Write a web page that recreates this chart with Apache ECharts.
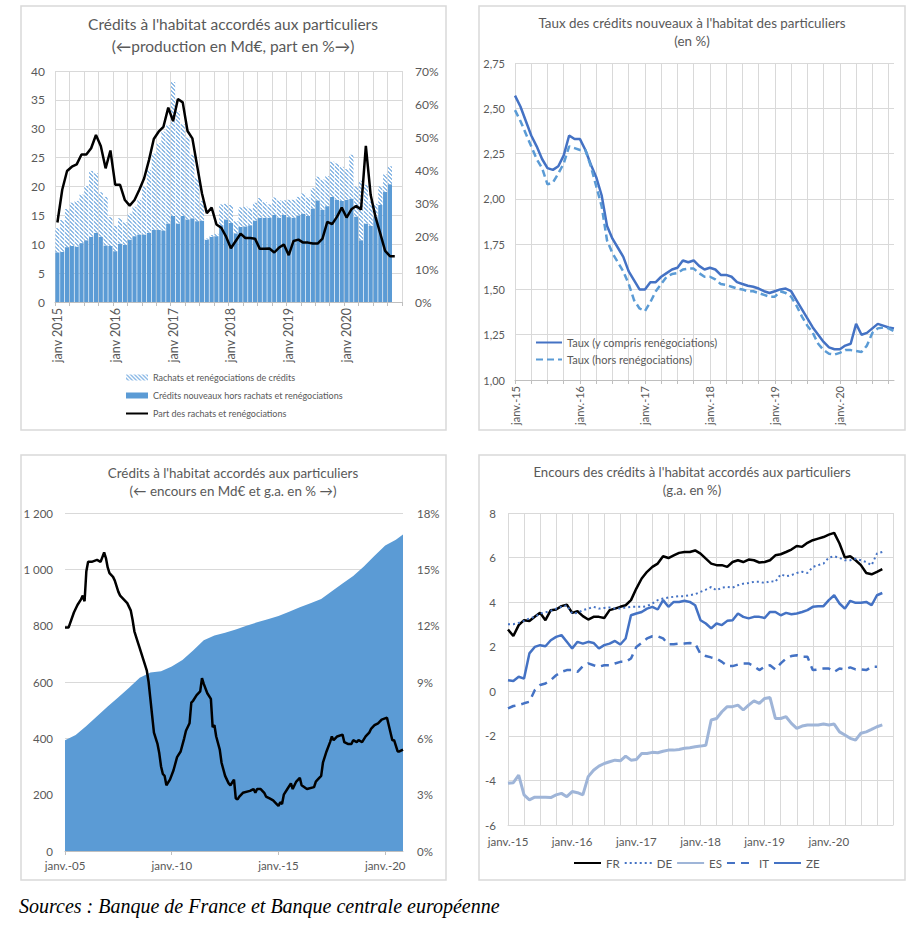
<!DOCTYPE html>
<html><head><meta charset="utf-8">
<script src="https://cdn.jsdelivr.net/npm/echarts@6/dist/echarts.min.js"></script>
<style>html,body{margin:0;padding:0;background:#fff;}#c{width:920px;height:926px;}</style>
</head><body><div id="c"></div>
<script>
// ---------- Panel 1 : production (Md€) and share (%) — monthly Jan 2015 .. ----------
const p1NewCredits = [8.6,8.7,9.5,9.7,9.6,10.2,10.7,11.3,12.0,11.3,9.8,9.7,
 8.8,10.1,9.9,10.8,11.4,11.7,11.7,12.0,12.5,12.5,12.4,13.6,
 14.9,13.6,14.9,14.3,14.5,14.0,14.1,10.8,11.3,11.4,13.3,14.3,
 13.7,11.9,13.0,13.1,13.3,14.1,14.6,14.6,14.6,15.1,14.6,15.1,
 14.7,14.6,15.0,15.3,14.9,16.2,17.6,16.0,16.6,18.2,17.7,17.5,
 17.7,17.9,14.8,10.7,13.6,13.2,14.8,16.8,19.1,20.4];
const p1Rachats = [4.2,5.5,6.6,7.5,7.9,8.4,9.4,11.4,10.3,7.7,8.4,5.0,
 4.4,4.4,3.9,4.5,5.1,6.0,8.3,10.9,13.2,15.0,17.1,17.0,
 23.2,19.4,15.9,14.2,11.0,7.5,3.4,0.2,0.3,0.4,3.6,2.7,
 3.1,2.1,3.4,3.4,2.9,3.1,3.4,2.7,2.3,3.0,3.0,2.5,
 3.0,3.1,3.2,3.5,3.2,3.5,4.1,5.2,5.2,6.1,6.3,5.9,
 5.3,7.6,5.2,10.3,6.7,4.2,2.2,3.2,3.0,3.1];
const p1Share = [24.1,34,39.7,41,41.7,44.7,44.7,46.6,50.6,47.3,40.5,45.9,
 35.5,35.5,30.9,29.2,30.9,34,37.5,43,49.4,51.6,53.1,58.9,
 54.8,61.5,60.5,51.8,49.6,41.2,32.9,26.9,28.6,23.5,22.5,19.8,
 16.3,18.5,20.7,19.4,19.4,19.2,16.1,16.1,16.2,15.0,16.5,17.4,
 14.2,18.5,18.9,18.0,18.0,17.7,17.7,19.2,24.3,23.6,25.8,28.6,
 25.6,28.1,29.1,28.0,47.3,32.4,25.8,20.7,15.5,13.9,13.9];

// ---------- Panel 2 : rates (%) monthly Jan 2015 .. Nov 2020 ----------
const p2RateAll = [2.57,2.51,2.43,2.35,2.29,2.22,2.17,2.16,2.18,2.24,2.35,2.33,
 2.33,2.27,2.19,2.12,2.02,1.85,1.78,1.73,1.68,1.60,1.55,1.50,
 1.50,1.54,1.54,1.57,1.59,1.61,1.62,1.66,1.65,1.66,1.63,1.61,
 1.62,1.61,1.58,1.58,1.57,1.54,1.53,1.52,1.515,1.505,1.49,1.48,
 1.49,1.50,1.505,1.49,1.44,1.39,1.34,1.29,1.25,1.21,1.18,1.17,
 1.17,1.19,1.20,1.31,1.25,1.26,1.285,1.31,1.30,1.29,1.285];
const p2RateNew = [2.49,2.43,2.36,2.29,2.22,2.17,2.08,2.09,2.14,2.195,2.29,2.28,
 2.27,2.27,2.18,2.07,1.96,1.77,1.70,1.65,1.60,1.53,1.44,1.395,
 1.38,1.43,1.49,1.53,1.57,1.585,1.59,1.61,1.615,1.615,1.59,1.57,
 1.57,1.555,1.53,1.525,1.515,1.505,1.50,1.49,1.49,1.48,1.47,1.46,
 1.46,1.49,1.48,1.46,1.41,1.35,1.30,1.26,1.20,1.165,1.145,1.14,
 1.15,1.165,1.165,1.16,1.155,1.19,1.26,1.285,1.29,1.285,1.27];

// ---------- Panel 3 : outstanding (Md€) and growth (%) — x = months since Jan 2005 ----------
const p3StockMonth = [0,6,12,18,24,30,36,42,48,54,60,66,72,78,84,90,96,102,108,114,120,126,132,138,144,150,156,162,168,174,180,186,190];
const p3StockValue = [393,412,444,478,513,546,580,615,634,638,655,678,712,748,765,775,786,800,812,823,834,849,865,880,895,922,950,976,1010,1048,1085,1105,1124];
const p3GrowthMonth = [0,2,5,7,9,10,11,12,13,15,18,20,22,23,24,25,27,28,30,31,33,35,36,37,38,39,41,42,44,46,47,48,49,50,52,53,54,55,56,57,59,61,63,65,67,68,70,71,72,74,76,77,78,80,82,83,84,85,87,88,90,92,93,95,96,97,98,100,104,106,107,108,110,112,113,115,117,119,120,121,122,123,125,127,128,130,132,133,136,140,141,142,144,145,147,149,150,151,153,156,157,159,161,162,164,165,167,169,171,172,174,176,178,181,182,184,185,187,188,190];
const p3GrowthValue = [11.9,11.9,12.7,13.1,13.4,13.6,13.3,14.9,15.4,15.4,15.5,15.4,15.9,15.6,15.1,14.8,14.6,14.4,13.8,13.6,13.4,13.2,13.0,12.8,12.3,11.7,11.1,10.8,10.2,9.6,9.0,8.1,7.2,6.3,5.7,5.2,4.5,4.1,4.0,3.5,3.8,4.3,5.0,5.3,6.0,6.4,6.8,7.9,8.0,8.3,8.5,9.2,8.9,8.4,8.1,6.6,6.7,6.1,5.4,4.7,4.0,3.6,3.5,3.8,2.8,2.75,2.9,3.1,3.2,3.3,3.1,3.3,3.3,3.1,2.9,2.8,2.7,2.5,2.4,2.6,2.5,3.0,3.3,3.6,3.3,3.7,3.9,3.5,3.3,3.4,3.7,3.8,4.0,4.7,5.3,5.8,6.1,5.9,6.1,6.2,5.8,5.7,5.7,5.9,5.8,5.9,5.8,6.1,6.3,6.5,6.7,6.8,7.0,7.1,6.7,5.9,5.9,5.3,5.3,5.4];
const p3XTicks = ['janv.-05','janv.-10','janv.-15','janv.-20'];

// ---------- Panel 4 : outstanding growth by country (%) monthly Jan 2015 .. ----------
const p4FR = [2.77,2.48,2.97,3.19,3.15,3.34,3.52,3.19,3.64,3.67,3.82,3.89,
 3.52,3.59,3.37,3.22,3.34,3.34,3.29,3.64,3.71,3.79,3.86,4.09,
 4.61,5.06,5.36,5.58,5.73,6.06,5.98,6.10,6.21,6.25,6.25,6.32,
 6.18,5.95,5.73,5.66,5.66,5.58,5.80,5.88,5.80,5.91,5.88,5.78,
 5.80,5.88,6.10,6.15,6.25,6.36,6.52,6.48,6.66,6.78,6.85,6.92,
 7.03,7.11,6.63,6.00,6.06,5.88,5.66,5.31,5.25,5.36,5.48];
const p4DE = [3.01,3.01,3.07,3.16,3.27,3.34,3.49,3.54,3.61,3.71,3.79,3.86,
 3.49,3.52,3.64,3.71,3.79,3.71,3.74,3.76,3.71,3.71,3.76,3.79,
 3.79,3.79,3.82,3.94,4.09,4.16,4.21,4.24,4.27,4.27,4.31,4.36,
 4.46,4.56,4.68,4.53,4.65,4.68,4.65,4.76,4.83,4.86,4.91,4.91,
 4.86,4.94,4.91,5.25,5.16,5.21,5.31,5.36,5.31,5.58,5.66,5.73,
 6.00,6.06,5.98,5.88,5.88,5.95,5.88,5.80,5.66,6.18,6.25];
const p4ES = [-4.13,-4.10,-3.76,-4.65,-4.87,-4.75,-4.75,-4.75,-4.77,-4.65,-4.58,-4.73,
 -4.50,-4.55,-4.65,-3.83,-3.54,-3.36,-3.24,-3.16,-3.09,-3.12,-2.91,-3.09,
 -3.06,-2.79,-2.79,-2.74,-2.76,-2.69,-2.64,-2.64,-2.61,-2.56,-2.53,-2.49,
 -2.46,-2.42,-1.29,-1.22,-0.92,-0.69,-0.69,-0.62,-0.84,-0.62,-0.43,-0.54,
 -0.32,-0.28,-1.22,-1.22,-1.14,-1.44,-1.66,-1.56,-1.51,-1.51,-1.51,-1.47,
 -1.51,-1.47,-1.82,-1.96,-2.11,-2.19,-1.88,-1.82,-1.71,-1.59,-1.51];
const p4IT = [-0.77,-0.66,-0.62,-0.54,-0.47,0.05,0.28,0.35,0.50,0.72,0.87,0.95,
 0.95,0.87,1.13,1.25,1.17,1.10,1.17,1.17,1.25,1.32,1.32,1.47,
 1.99,2.17,2.37,2.47,2.47,2.37,2.11,2.11,2.14,2.14,2.17,2.14,
 1.67,1.58,1.52,1.47,1.32,1.13,1.13,1.20,1.25,1.25,1.13,0.95,
 1.10,1.17,0.98,1.25,1.47,1.58,1.62,1.55,1.55,0.95,0.98,1.02,
 1.02,0.87,1.02,0.98,1.07,0.98,0.98,0.95,1.10,1.10];
const p4ZE = [0.50,0.46,0.65,0.57,1.70,1.99,2.07,2.02,2.29,2.44,2.52,2.22,
 1.92,2.22,2.14,2.22,2.17,1.92,2.07,2.14,2.26,2.10,2.37,3.41,
 3.49,3.56,3.71,3.79,3.67,4.09,3.79,4.01,4.01,4.06,4.01,3.86,
 3.19,3.04,2.82,3.04,2.97,3.16,3.19,3.49,3.34,3.27,3.34,3.34,
 3.29,3.56,3.56,3.41,3.52,3.46,3.49,3.56,3.64,3.79,3.82,3.82,
 4.09,4.31,3.94,3.71,4.06,3.97,3.97,4.01,3.86,4.31,4.41];

// ---------- helpers ----------
function monthCats(y0, y1, mEnd) {
  const a = [];
  for (let y = y0; y <= y1; y++) for (let m = 1; m <= 12; m++) {
    if (y === y1 && m > mEnd) break;
    a.push(y + '-' + String(m).padStart(2, '0'));
  }
  return a;
}
const p1Cats = monthCats(2015, 2020, 12);
const p2Cats = monthCats(2015, 2020, 11);
const p4Cats = monthCats(2015, 2021, 1);
const zip = (xs, ys) => xs.map((x, i) => [x, ys[i]]);

const TXT = '#595959', GRIDC = '#d9d9d9', AX = '#bfbfbf';
const FONT = 'Lato, "Liberation Sans", sans-serif';

// hatch pattern for "Rachats"
const pc = document.createElement('canvas'); pc.width = 4; pc.height = 4;
const g = pc.getContext('2d');
g.fillStyle = '#ffffff'; g.fillRect(0, 0, 4, 4);
g.fillStyle = '#8fbbe6';
g.fillRect(0, 0, 2, 1); g.fillRect(1, 1, 2, 1); g.fillRect(2, 2, 2, 1); g.fillRect(3, 3, 1, 1); g.fillRect(0, 3, 1, 1);
const hatch = { image: pc, repeat: 'repeat' };

const lab = (size) => ({ color: TXT, fontSize: size, fontFamily: FONT });
const vSplit = { show: true, interval: 2, lineStyle: { color: GRIDC, width: 1 } };
const hSplit = { show: true, lineStyle: { color: GRIDC, width: 1 } };
const noSym = { opacity: 0 };

const chart = echarts.init(document.getElementById('c'), null, { renderer: 'svg' });
chart.setOption({
  animation: false,
  backgroundColor: '#ffffff',
  grid: [
    { left: 55, top: 71, width: 347, height: 231 },
    { left: 515, top: 63, width: 379, height: 317 },
    { left: 65, top: 513, width: 338, height: 338 },
    { left: 508, top: 513, width: 385, height: 312 }
  ],
  xAxis: [
    { type: 'category', gridIndex: 0, data: p1Cats, boundaryGap: true,
      axisLine: { lineStyle: { color: AX } },
      axisTick: { show: true, interval: 2, length: 4, lineStyle: { color: AX } },
      axisLabel: Object.assign(lab(12.5), { interval: (i, v) => v.endsWith('-01'), rotate: 90, margin: 6,
        formatter: v => 'janv ' + v.slice(0, 4) }),
      splitLine: vSplit },
    { type: 'category', gridIndex: 1, data: p2Cats, boundaryGap: false,
      axisLine: { lineStyle: { color: AX } },
      axisTick: { show: true, interval: 2, length: 4, lineStyle: { color: AX } },
      axisLabel: Object.assign(lab(11), { interval: (i, v) => v.endsWith('-01'), rotate: 90, margin: 6,
        formatter: v => 'janv.-' + v.slice(2, 4) }),
      splitLine: vSplit },
    { type: 'value', gridIndex: 2, min: 0, max: 190, interval: 60,
      axisLine: { lineStyle: { color: AX } },
      axisTick: { show: true, length: 4, lineStyle: { color: AX } },
      axisLabel: Object.assign(lab(11.5), { showMaxLabel: false, margin: 8,
        formatter: v => p3XTicks[v / 60] || '' }),
      splitLine: { show: false } },
    { type: 'category', gridIndex: 3, data: p4Cats, boundaryGap: false,
      axisLine: { onZero: false, lineStyle: { color: GRIDC } },
      axisTick: { show: false },
      axisLabel: Object.assign(lab(11.5), { interval: (i, v) => v.endsWith('-01') && i < 72, margin: 10,
        formatter: v => 'janv.-' + v.slice(2, 4) }),
      splitLine: vSplit }
  ],
  yAxis: [
    { type: 'value', gridIndex: 0, min: 0, max: 40, interval: 5,
      axisLine: { show: false }, axisTick: { show: false },
      axisLabel: Object.assign(lab(12), { margin: 10 }), splitLine: hSplit },
    { type: 'value', gridIndex: 0, position: 'right', min: 0, max: 70, interval: 10,
      axisLine: { show: false }, axisTick: { show: false },
      axisLabel: Object.assign(lab(12), { margin: 13, formatter: '{value}%' }), splitLine: { show: false } },
    { type: 'value', gridIndex: 1, min: 1, max: 2.75, interval: 0.25,
      axisLine: { show: false }, axisTick: { show: false },
      axisLabel: Object.assign(lab(11), { margin: 10, formatter: v => v.toFixed(2).replace('.', ',') }),
      splitLine: hSplit },
    { type: 'value', gridIndex: 2, min: 0, max: 1200, interval: 200,
      axisLine: { show: false }, axisTick: { show: false },
      axisLabel: Object.assign(lab(11.5), { margin: 12,
        formatter: v => v >= 1000 ? Math.floor(v / 1000) + ' ' + String(v % 1000).padStart(3, '0') : String(v) }),
      splitLine: hSplit },
    { type: 'value', gridIndex: 2, position: 'right', min: 0, max: 18, interval: 3,
      axisLine: { show: false }, axisTick: { show: false },
      axisLabel: Object.assign(lab(11.5), { margin: 14, formatter: '{value}%' }), splitLine: { show: false } },
    { type: 'value', gridIndex: 3, min: -6, max: 8, interval: 2,
      axisLine: { show: false }, axisTick: { show: false },
      axisLabel: Object.assign(lab(11.5), { margin: 12 }), splitLine: hSplit }
  ],
  legend: [
    { orient: 'vertical', left: 125, top: 373, padding: 0, itemGap: 9, itemWidth: 22, itemHeight: 6,
      textStyle: lab(9),
      data: [{ name: 'Rachats et renégociations de crédits', icon: 'rect' },
             { name: 'Crédits nouveaux hors rachats et renégociations', icon: 'rect' },
             { name: 'Part des rachats et renégociations', itemStyle: noSym }] },
    { orient: 'vertical', left: 535, top: 337, padding: 0, itemGap: 6, itemWidth: 26, itemHeight: 8,
      textStyle: lab(11),
      data: [{ name: 'Taux (y compris renégociations)', itemStyle: noSym },
             { name: 'Taux (hors renégociations)', itemStyle: noSym }] },
    { orient: 'horizontal', left: 573, top: 857, padding: 0, itemGap: 4, itemWidth: 27, itemHeight: 8,
      textStyle: lab(11.5),
      data: ['FR', 'DE', 'ES', 'IT', 'ZE'].map(n => ({ name: n, itemStyle: noSym })) }
  ],
  series: [
    { name: 'Crédits nouveaux hors rachats et renégociations', type: 'bar', xAxisIndex: 0, yAxisIndex: 0,
      stack: 'p1', data: p1NewCredits, barCategoryGap: '14%', itemStyle: { color: '#5B9BD5' } },
    { name: 'Rachats et renégociations de crédits', type: 'bar', xAxisIndex: 0, yAxisIndex: 0,
      stack: 'p1', data: p1Rachats, barCategoryGap: '14%', itemStyle: { color: hatch } },
    { name: 'Part des rachats et renégociations', type: 'line', xAxisIndex: 0, yAxisIndex: 1,
      data: p1Share, symbol: 'none', lineStyle: { color: '#000', width: 2.5 }, itemStyle: { color: '#000' } },

    { name: 'Taux (y compris renégociations)', type: 'line', xAxisIndex: 1, yAxisIndex: 2,
      data: p2RateAll, symbol: 'none', lineStyle: { color: '#4472C4', width: 2.5 }, itemStyle: { color: '#4472C4' } },
    { name: 'Taux (hors renégociations)', type: 'line', xAxisIndex: 1, yAxisIndex: 2,
      data: p2RateNew, symbol: 'none', lineStyle: { color: '#5B9BD5', width: 2.5, type: [7, 4] }, itemStyle: { color: '#5B9BD5' } },

    { name: 'Encours', type: 'line', xAxisIndex: 2, yAxisIndex: 3, data: zip(p3StockMonth, p3StockValue),
      symbol: 'none', lineStyle: { width: 0, color: '#5B9BD5' }, areaStyle: { color: '#5B9BD5', opacity: 1 } },
    { name: 'g.a.', type: 'line', xAxisIndex: 2, yAxisIndex: 4, data: zip(p3GrowthMonth, p3GrowthValue),
      symbol: 'none', lineStyle: { color: '#000', width: 2.5 } },

    { name: 'FR', type: 'line', xAxisIndex: 3, yAxisIndex: 5, data: p4FR, symbol: 'none',
      lineStyle: { color: '#000', width: 2.5 }, itemStyle: { color: '#000' } },
    { name: 'DE', type: 'line', xAxisIndex: 3, yAxisIndex: 5, data: p4DE, symbol: 'none',
      lineStyle: { color: '#4472C4', width: 2, type: [2, 3] }, itemStyle: { color: '#4472C4' } },
    { name: 'ES', type: 'line', xAxisIndex: 3, yAxisIndex: 5, data: p4ES, symbol: 'none',
      lineStyle: { color: '#9FB5D8', width: 3 }, itemStyle: { color: '#9FB5D8' } },
    { name: 'IT', type: 'line', xAxisIndex: 3, yAxisIndex: 5, data: p4IT, symbol: 'none',
      lineStyle: { color: '#4472C4', width: 2.5, type: [8, 6] }, itemStyle: { color: '#4472C4' } },
    { name: 'ZE', type: 'line', xAxisIndex: 3, yAxisIndex: 5, data: p4ZE, symbol: 'none',
      lineStyle: { color: '#4472C4', width: 2.5 }, itemStyle: { color: '#4472C4' } }
  ],
  graphic: { elements: [
    { type: 'rect', silent: true, shape: { x: 21, y: 6, width: 425, height: 424 }, style: { fill: 'none', stroke: '#d9d9d9', lineWidth: 1.5 } },
    { type: 'rect', silent: true, shape: { x: 479, y: 6, width: 426, height: 424 }, style: { fill: 'none', stroke: '#d9d9d9', lineWidth: 1.5 } },
    { type: 'rect', silent: true, shape: { x: 21, y: 455, width: 425, height: 425 }, style: { fill: 'none', stroke: '#d9d9d9', lineWidth: 1.5 } },
    { type: 'rect', silent: true, shape: { x: 479, y: 455, width: 426, height: 425 }, style: { fill: 'none', stroke: '#d9d9d9', lineWidth: 1.5 } },
    { type: 'text', silent: true, x: 233, y: 13, style: { text: "Crédits à l'habitat accordés aux particuliers\n(←production en Md€, part en %→)",
      font: '15.5px ' + FONT, fill: TXT, align: 'center', textAlign: 'center', verticalAlign: 'top', lineHeight: 22 } },
    { type: 'text', silent: true, x: 692, y: 14, style: { text: "Taux des crédits nouveaux à l'habitat des particuliers\n(en %)",
      font: '13.4px ' + FONT, fill: TXT, align: 'center', textAlign: 'center', verticalAlign: 'top', lineHeight: 18 } },
    { type: 'text', silent: true, x: 233, y: 464, style: { text: "Crédits à l'habitat accordés aux particuliers\n(← encours en Md€ et g.a. en % →)",
      font: '13.4px ' + FONT, fill: TXT, align: 'center', textAlign: 'center', verticalAlign: 'top', lineHeight: 18 } },
    { type: 'text', silent: true, x: 692, y: 463, style: { text: "Encours des crédits à l'habitat accordés aux particuliers\n(g.a. en %)",
      font: '13.2px ' + FONT, fill: TXT, align: 'center', textAlign: 'center', verticalAlign: 'top', lineHeight: 18 } },
    { type: 'text', silent: true, x: 19, y: 896, style: { text: 'Sources : Banque de France et Banque centrale européenne',
      font: 'italic 20px "Liberation Serif", "DejaVu Serif", serif', fill: '#000', verticalAlign: 'top' } }
  ] }
});
</script></body></html>
